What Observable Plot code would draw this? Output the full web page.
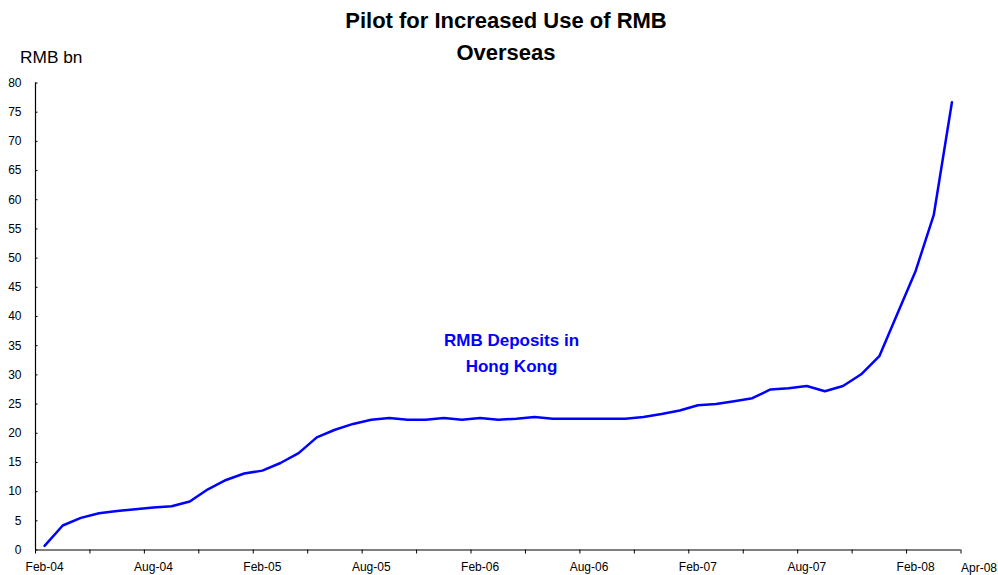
<!DOCTYPE html>
<html><head><meta charset="utf-8">
<script src="https://cdn.jsdelivr.net/npm/d3@7"></script>
<script src="https://cdn.jsdelivr.net/npm/@observablehq/plot@0.6"></script>
<style>
body{margin:0;background:#fff;font-family:"Liberation Sans",Arial,sans-serif;}
#wrap{position:relative;width:998px;height:575px;overflow:hidden;}
#chart{position:absolute;left:0;top:0;}
#title{position:absolute;left:7px;width:998px;top:5px;text-align:center;font-weight:bold;font-size:22px;line-height:32px;color:#000;}
#ylab{position:absolute;left:20px;top:47px;font-size:17.3px;color:#000;}
</style></head><body>
<div id="wrap"><div id="chart"></div><div id="title">Pilot for Increased Use of RMB<br>Overseas</div><div id="ylab">RMB bn</div></div>
<script>
const months = ["Feb-04","Mar-04","Apr-04","May-04","Jun-04","Jul-04","Aug-04","Sep-04","Oct-04","Nov-04","Dec-04",
"Jan-05","Feb-05","Mar-05","Apr-05","May-05","Jun-05","Jul-05","Aug-05","Sep-05","Oct-05","Nov-05","Dec-05",
"Jan-06","Feb-06","Mar-06","Apr-06","May-06","Jun-06","Jul-06","Aug-06","Sep-06","Oct-06","Nov-06","Dec-06",
"Jan-07","Feb-07","Mar-07","Apr-07","May-07","Jun-07","Jul-07","Aug-07","Sep-07","Oct-07","Nov-07","Dec-07",
"Jan-08","Feb-08","Mar-08","Apr-08"];
const deposits = [0.7,4.2,5.5,6.3,6.7,7.0,7.3,7.5,8.3,10.4,12.0,
13.1,13.6,14.9,16.6,19.3,20.6,21.6,22.3,22.6,22.3,22.3,22.6,
22.3,22.6,22.3,22.5,22.8,22.5,22.5,22.5,22.5,22.5,22.8,23.3,
23.9,24.8,25.0,25.5,26.0,27.5,27.7,28.1,27.2,28.1,30.1,33.2,
40.5,47.8,57.4,76.7];
const yTicks = [0,5,10,15,20,25,30,35,40,45,50,55,60,65,70,75,80];
const labelMonths = ["Feb-04","Aug-04","Feb-05","Aug-05","Feb-06","Aug-06","Feb-07","Aug-07","Feb-08"];
const lastLabel = "Apr-08";
const seriesName = "RMB Deposits in\nHong Kong";

const data = months.map((m, i) => ({i, m, v: deposits[i]}));
const n = months.length;
const boundaries = d3.range(-0.5, n, 3);
const labelIdx = labelMonths.map(m => months.indexOf(m));

const chart = Plot.plot({
  width: 998, height: 575,
  marginLeft: 35, marginRight: 37.5, marginTop: 82.5, marginBottom: 25.5,
  style: {fontFamily: "Liberation Sans, Arial, sans-serif", color: "#000", background: "transparent"},
  x: {type: "linear", domain: [-0.5, n - 0.5]},
  y: {domain: [0, 80]},
  marks: [
    Plot.axisY({ticks: yTicks, tickSize: 0, tickPadding: 14, fontSize: 12, label: null}),
    Plot.ruleX([-0.5], {stroke: "#000", strokeWidth: 1.2}),
    Plot.ruleY(yTicks, {x1: -0.5, x2: -0.36, stroke: "#000"}),
    Plot.ruleY([0], {x1: -0.5, x2: n - 0.5, stroke: "#000", strokeWidth: 1.2}),
    Plot.axisX({ticks: boundaries, tickSize: 4, tickFormat: () => "", label: null}),
    Plot.axisX({ticks: labelIdx, tickSize: 0, tickPadding: 12, tickFormat: i => months[i], fontSize: 12, label: null}),
    Plot.text([lastLabel], {x: n - 0.5, y: 0, text: d => d, textAnchor: "start", dy: 18, fontSize: 12, fill: "#000"}),
    Plot.line(data, {x: "i", y: "v", stroke: "#0000ff", strokeWidth: 2.5}),
    Plot.text([seriesName], {x: 25.73, y: 34.2, text: d => d, fill: "#0000ff", fontWeight: "bold", fontSize: 17, lineHeight: 1.53, textAnchor: "middle", lineAnchor: "middle"})
  ]
});
document.getElementById("chart").appendChild(chart);
</script>
</body></html>
